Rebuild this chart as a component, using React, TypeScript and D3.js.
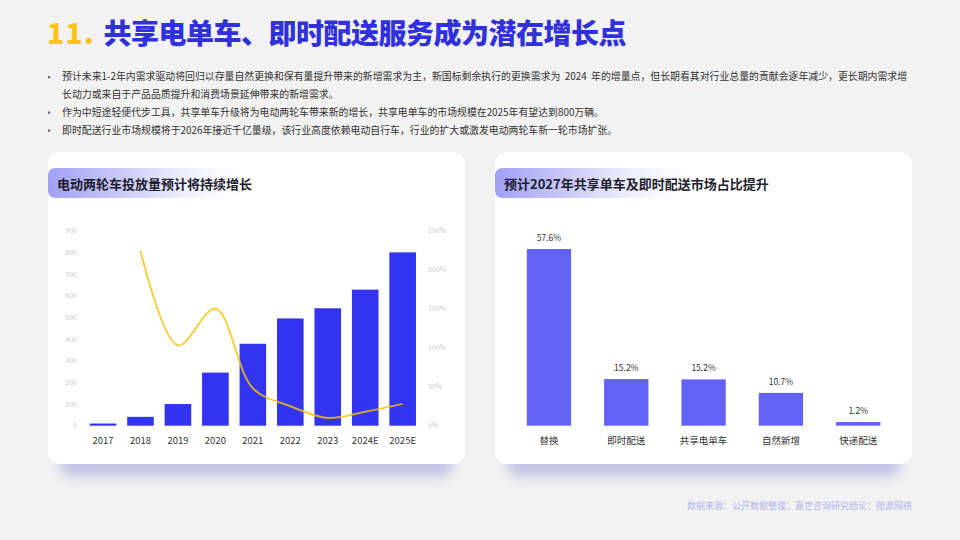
import React from "react";
import * as d3 from "d3";

const years = ["2017", "2018", "2019", "2020", "2021", "2022", "2023", "2024E", "2025E"];
const volume = [10, 41, 100, 245, 378, 495, 542, 628, 800];
const growth: (number | null)[] = [null, 224, 103, 150, 48, 25, 10, 18, 28];
const leftTicks = [0, 100, 200, 300, 400, 500, 600, 700, 800, 900];
const rightTicks = [0, 50, 100, 150, 200, 250];

const shareCats = ["替换", "即时配送", "共享电单车", "自然新增", "快递配送"];
const shareVals = [57.6, 15.2, 15.1, 10.7, 1.2];
const shareLabels = ["57.6%", "15.2%", "15.2%", "10.7%", "1.2%"];

const bullets = [
  "预计未来1-2年内需求驱动将回归以存量自然更换和保有量提升带来的新增需求为主，新国标剩余执行的更换需求为\u00a0\u00a02024\u00a0\u00a0年的增量点，但长期看其对行业总量的贡献会逐年减少，更长期内需求增",
  "长动力或来自于产品品质提升和消费场景延伸带来的新增需求。",
  "作为中短途轻便代步工具，共享单车升级将为电动两轮车带来新的增长，共享电单车的市场规模在2025年有望达到800万辆。",
  "即时配送行业市场规模将于2026年接近千亿量级，该行业高度依赖电动自行车，行业的扩大或激发电动两轮车新一轮市场扩张。",
];
const bulletMarks = [true, false, true, true];

const FONT = "'Noto Sans CJK SC', 'Noto Sans', sans-serif";

function Card({ x, title }: { x: number; title: string }) {
  const w = 417;
  return (
    <g>
      <rect x={x + 12} y={200} width={w - 24} height={277} rx={12} fill="#c4c4e6" filter="url(#blurShadow)" />
      <rect x={x} y={152} width={w} height={312} rx={12} fill="#ffffff" />
      <path
        d={`M${x + 8},168 H${x + 215} V198 H${x + 8} Q${x},198 ${x},190 V176 Q${x},168 ${x + 8},168 Z`}
        fill="url(#hdrGrad)"
      />
      <text x={x + 9} y={189} fontSize={13} fontWeight={700} fill="#1e1e2e" fontFamily={FONT}>
        {title}
      </text>
    </g>
  );
}

export default function App() {
  const W = 960;
  const H = 540;

  const xL = d3.scaleBand<string>().domain(years).range([84.3, 421.4]).paddingInner(0.29).paddingOuter(0.145);
  const yL = d3.scaleLinear().domain([0, 900]).range([425.7, 230.7]);
  const yR = d3.scaleLinear().domain([0, 250]).range([425.7, 230.7]);
  const linePts = years
    .map((yv, i) => ({ x: (xL(yv) as number) + xL.bandwidth() / 2, v: growth[i] }))
    .filter((p) => p.v !== null) as { x: number; v: number }[];
  const lineGen = d3
    .line<{ x: number; v: number }>()
    .x((d) => d.x)
    .y((d) => yR(d.v))
    .curve(d3.curveCatmullRom.alpha(0.5));

  const x2 = d3.scaleBand<string>().domain(shareCats).range([510.3, 896.9]).paddingInner(0.427).paddingOuter(0.2135);
  const y2 = d3.scaleLinear().domain([0, 60]).range([425.7, 241.7]);

  return (
    <svg width={W} height={H} style={{ position: "absolute", left: 0, top: 0, display: "block" }} fontFamily={FONT}>
      <defs>
        <linearGradient id="hdrGrad" x1="0" x2="1" y1="0" y2="0">
          <stop offset="0" stopColor="#a0a0f4" />
          <stop offset="0.45" stopColor="#d8d8f9" />
          <stop offset="1" stopColor="#ffffff" stopOpacity="0" />
        </linearGradient>
        <filter id="blurShadow" x="-20%" y="-20%" width="140%" height="140%">
          <feGaussianBlur stdDeviation="6" />
        </filter>
      </defs>
      <rect x={0} y={0} width={W} height={H} fill="#f2f2f2" />

      <text x={47} y={44} fontSize={28} fontWeight={900} fontFamily={FONT}>
        <tspan fill="#fdc31a" letterSpacing={1.5}>11.</tspan>
        <tspan fill="#3131dc" dx={8} letterSpacing={-0.5}>共享电单车、即时配送服务成为潜在增长点</tspan>
      </text>

      {bullets.map((b, i) => {
        const yy = 80 + [0, 17.5, 35.5, 53.5][i];
        return (
          <g key={i}>
            {bulletMarks[i] && <rect x={48} y={yy - 4} width={2.2} height={2.2} fill="#666" />}
            <text x={62} y={yy} fontSize={9.9} fill="#333" fontFamily={FONT}>
              {b}
            </text>
          </g>
        );
      })}

      <Card x={48} title="电动两轮车投放量预计将持续增长" />
      <Card x={495} title="预计2027年共享单车及即时配送市场占比提升" />

      {leftTicks.map((t) => (
        <text key={"l" + t} x={77} y={yL(t) + 2.5} fontSize={7} fill="#c8c8c8" textAnchor="end">
          {t}
        </text>
      ))}
      {rightTicks.map((t) => (
        <text key={"r" + t} x={428} y={yR(t) + 2.5} fontSize={7} fill="#c8c8c8">
          {t + "%"}
        </text>
      ))}
      {years.map((yv, i) => (
        <g key={yv}>
          <rect
            x={xL(yv) as number}
            y={yL(volume[i])}
            width={xL.bandwidth()}
            height={yL(0) - yL(volume[i])}
            fill="#3434f0"
          />
          <text
            x={(xL(yv) as number) + xL.bandwidth() / 2}
            y={444}
            fontSize={9.5}
            fill="#333"
            textAnchor="middle"
          >
            {yv}
          </text>
        </g>
      ))}
      <path d={lineGen(linePts) || ""} fill="none" stroke="#f4c20f" strokeWidth={2} strokeOpacity={0.8} />

      {shareCats.map((c, i) => {
        const bx = x2(c) as number;
        const cx = bx + x2.bandwidth() / 2;
        return (
          <g key={c}>
            <rect x={bx} y={y2(shareVals[i])} width={x2.bandwidth()} height={y2(0) - y2(shareVals[i])} fill="#6262f6" />
            <text x={cx} y={y2(shareVals[i]) - 8} fontSize={8.5} fill="#333" textAnchor="middle">
              {shareLabels[i]}
            </text>
            <text x={cx} y={444} fontSize={9.5} fill="#333" textAnchor="middle">
              {c}
            </text>
          </g>
        );
      })}

      <text x={912} y={509} fontSize={9} fill="#b4b4ec" textAnchor="end">
        数据来源：公开数据整理；嘉世咨询研究结论；图源网络
      </text>
    </svg>
  );
}
